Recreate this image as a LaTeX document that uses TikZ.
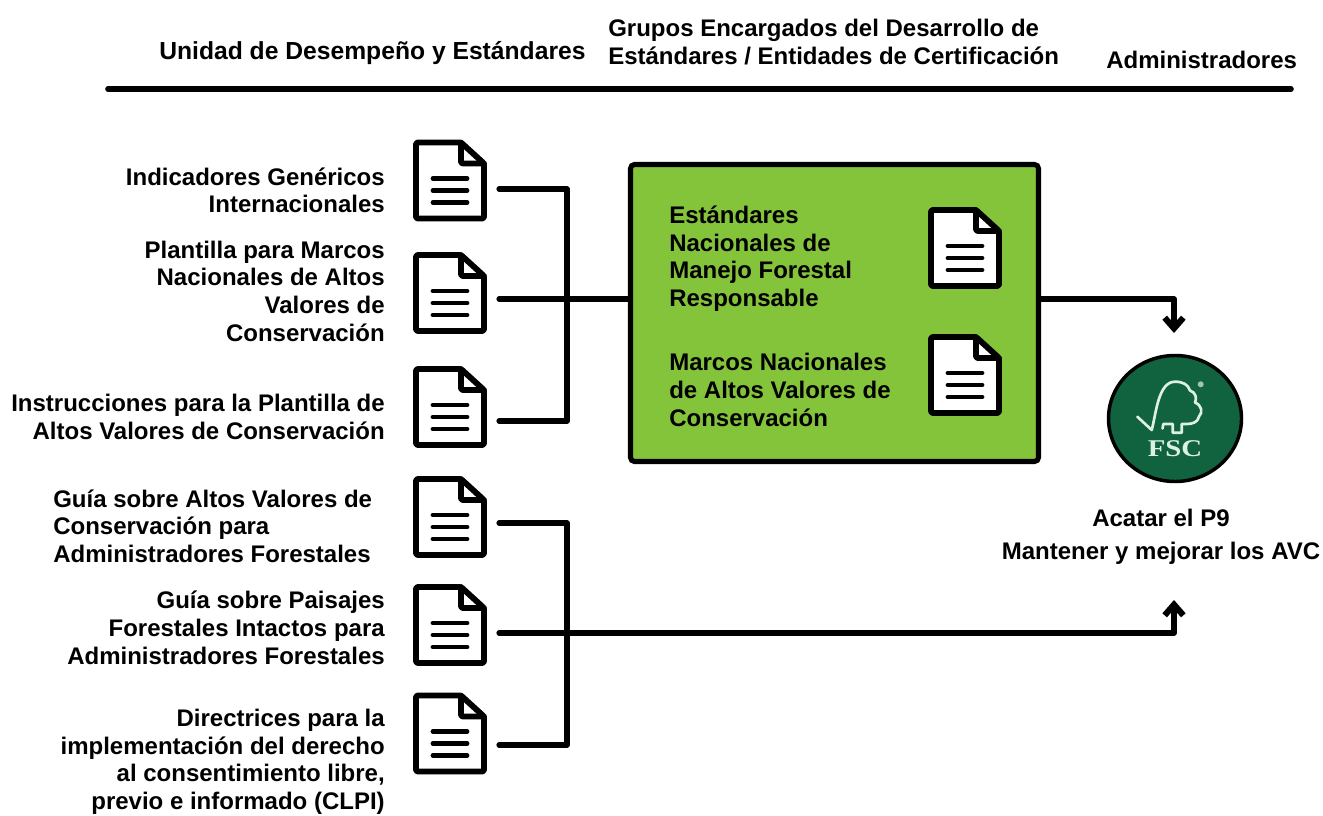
\documentclass[tikz,border=0pt]{standalone}
\usepackage{fontspec}
\setmainfont{Liberation Sans}
\usetikzlibrary{calc,arrows.meta,shapes.geometric}
\definecolor{boxgreen}{HTML}{84C43A}
\definecolor{fscgreen}{HTML}{11633F}
\definecolor{fscline}{HTML}{DDF0E4}
\tikzset{
  x=0.75pt,y=-0.75pt,
  conn/.style={line width=3.9pt,draw=black,line cap=round,line join=round},
  rulestyle/.style={line width=4.2pt,draw=black,line cap=round},
  lbl/.style={font=\bfseries\fontsize{18}{20.7}\selectfont,align=right,anchor=base east,inner sep=0pt,text=black},
  lbll/.style={font=\bfseries\fontsize{18}{20.7}\selectfont,align=left,anchor=base west,inner sep=0pt,text=black},
  hdr/.style={font=\bfseries\fontsize{18}{21}\selectfont,align=left,anchor=base west,inner sep=0pt,text=black},
  docicon/.style={minimum width=55.5pt,minimum height=61.5pt,inner sep=0pt,draw=none},
  docline/.style={line width=4.4pt,draw=black,line join=round,line cap=round},
  dockline/.style={line width=3.6pt,draw=black,line cap=round},
  hookhead/.style={-{Straight Barb[length=8pt,width=14pt,line width=4.6pt]}},
}
\newcommand{\docpic}[3]{%
  \node[docicon] (#1) at (#2,#3) {};
  \begin{scope}[shift={(#1.center)}]
    \draw[docline,fill=white,rounded corners=1.5pt] (-34,-38) -- (11,-38) -- (34,-17) -- (34,38) -- (-34,38) -- cycle;
    \draw[docline,rounded corners=1.5pt] (11,-38) -- (11,-17) -- (34,-17);
    \draw[dockline] (-17,-2) -- (17,-2) (-17,10) -- (17,10) (-17,22) -- (17,22);
  \end{scope}}
\begin{document}
\begin{tikzpicture}
\useasboundingbox (0,0) rectangle (1323,816);
% headers
\node[hdr] (h1) at (159,60) {\fontsize{18.5}{21}\selectfont Unidad de Desempeño y Estándares};
\node[hdr] (h2) at (608,65) {Grupos Encargados del Desarrollo de\\Estándares / Entidades de Certificación};
\node[hdr] (h3) at (1106,69) {Administradores};
\coordinate (ruleL) at (108,89);
\coordinate (ruleR) at (1291,89);
\draw[rulestyle] (ruleL) -- (ruleR);
% green box
\node[draw=black,line width=3.8pt,fill=boxgreen,rounded corners=3pt,minimum width=306pt,minimum height=222.75pt,inner sep=0pt] (box) at (834.5,313) {};
% left labels
\node[lbl] (t1) at (385,213) {Indicadores Genéricos\\Internacionales};
\node[lbl] (t2) at (385,341) {Plantilla para Marcos\\Nacionales de Altos\\Valores de\\Conservación};
\node[lbl] (t3) at (385,439) {Instrucciones para la Plantilla de\\Altos Valores de Conservación};
\node[lbl,align=left,anchor=base west] (t4) at (53,562.5) {Guía sobre Altos Valores de\\Conservación para\\Administradores Forestales};
\node[lbl] (t5) at (385,664) {Guía sobre Paisajes\\Forestales Intactos para\\Administradores Forestales};
\node[lbl] (t6) at (385,809.5) {Directrices para la\\implementación del derecho\\al consentimiento libre,\\previo e informado (CLPI)};
% document icons
\docpic{d1}{450}{180.5}
\docpic{d2}{450}{293}
\docpic{d3}{450}{407}
\docpic{d4}{450}{517}
\docpic{d5}{450}{625}
\docpic{d6}{450}{733.5}
\docpic{d7}{965}{248}
\docpic{d8}{965}{375}
% box text
\node[lbll] (s1) at (669,306.5) {Estándares\\Nacionales de\\Manejo Forestal\\Responsable};
\node[lbll] (s2) at (669,426) {Marcos Nacionales\\de Altos Valores de\\Conservación};
% FSC logo
\node[ellipse,draw=black,line width=2.6pt,fill=fscgreen,minimum width=99.75pt,minimum height=94.5pt,inner sep=0pt] (fsc) at (1175,418.5) {};
\begin{scope}[shift={(fsc.center)}]
  \draw[fscline,line width=2pt,line join=round,line cap=round]
    (-37.7,-1.8) -- (-23.3,11.5) .. controls (-19,-4) and (-17,-36.8) .. (0,-36.8)
    .. controls (8,-36.8) and (13,-34) .. (15,-28)
    .. controls (21,-26) and (22,-20) .. (20,-16)
    .. controls (27,-13) and (28,-6) .. (24,-2)
    .. controls (23,4) and (17,5.5) .. (11.7,5.5) -- (6.7,5.5) -- (6.7,14.2) -- (-2.3,14.2) -- (-2.3,5.5) -- (-11.7,5.5) -- (-12.5,10);
  \node[font=\bfseries\fontsize{18}{18}\selectfont,text=fscline,inner sep=0pt] (fsct) at (0,30.5) {\fontspec{Liberation Serif}\scalebox{1.2}[1]{FSC}};
  \fill[fscline!70!fscgreen] (25.7,-34.2) circle (3);
\end{scope}
\node[font=\bfseries\fontsize{18}{24.75}\selectfont,align=center,anchor=base,inner sep=0pt,text=black] (t7) at (1161,559) {Acatar el P9\\Mantener y mejorar los AVC};
% connector coordinates
\coordinate (c1) at (499,189);
\coordinate (c2) at (499,299);
\coordinate (c3) at (499,421);
\coordinate (c4) at (499,523);
\coordinate (c5) at (499,633);
\coordinate (c6) at (499,745);
\coordinate (inTop) at (1174,333);
\coordinate (inBot) at (1174,600);
% connectors
\draw[conn] (c1) -- (567,189) -- (567,421) -- (c3);
\draw[conn] (c2) -- (box.west |- c2);
\draw[conn] (c4) -- (567,523) -- (567,745) -- (c6);
\draw[conn,hookhead] (box.east |- c2) -| (inTop);
\draw[conn,hookhead] (c5) -| (inBot);
\end{tikzpicture}
\end{document}
